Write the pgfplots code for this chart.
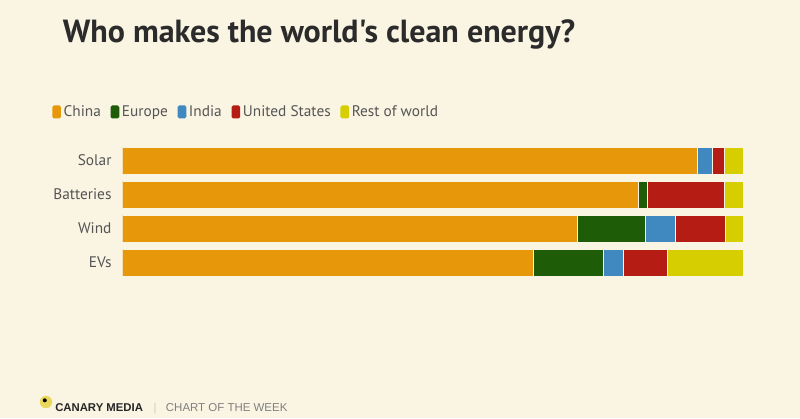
\documentclass[border=0pt]{standalone}
\usepackage{pgfplots}
\pgfplotsset{compat=1.18}
\usepackage{fontspec}
\setmainfont{PT Sans}
\newfontfamily\titlefont[Ligatures=NoCommon]{PT Sans}
\newfontfamily\footfont{Liberation Sans}
\definecolor{bg}{HTML}{FAF4E3}
\definecolor{cChina}{HTML}{E6970A}
\definecolor{cEurope}{HTML}{1E5C07}
\definecolor{cIndia}{HTML}{3F88C0}
\definecolor{cUS}{HTML}{B51C14}
\definecolor{cRoW}{HTML}{D6CE00}
\definecolor{txt}{HTML}{555555}
\definecolor{logo}{HTML}{E9D85A}
\begin{document}
\begin{tikzpicture}
\fill[bg] (0pt,0pt) rectangle (600pt,-313.5pt);
\begin{axis}[
  scale only axis,
  at={(91.8pt,-209.625pt)}, anchor=south west,
  width=466.05pt, height=102pt,
  xbar stacked,
  bar width=20.25pt,
  xmin=0, xmax=100,
  ymin=-0.5, ymax=3.5,
  y dir=reverse,
  axis line style={draw=none},
  xtick=\empty,
  ytick={0,1,2,3},
  yticklabels={Solar,Batteries,Wind,EVs},
  major tick length=0pt,
  ytick style={draw=none},
  yticklabel style={font=\fontsize{11.5}{13}\selectfont, text=txt, inner sep=0pt, xshift=-8pt},
  every axis plot/.append style={draw=bg, line width=0.75pt},
  legend columns=-1,
  legend cell align=left,
  legend style={at={(axis description cs:-0.1197,1.232)}, anchor=west, draw=none, fill=none,
    font=\fontsize{11.5}{13}\selectfont, text=txt,
    /tikz/every even column/.append style={column sep=5.3pt}},
  legend image code/.code={\fill[#1,draw=none,rounded corners=1.2pt] (0pt,-4.9pt) rectangle (6.5pt,4.9pt);},
]
\addplot[fill=cChina] coordinates {(92.6,0) (83.1,1) (73.2,2) (66.1,3)};
\addplot[fill=cEurope] coordinates {(0,0) (1.4,1) (11.0,2) (11.4,3)};
\addplot[fill=cIndia] coordinates {(2.4,0) (0,1) (4.8,2) (3.2,3)};
\addplot[fill=cUS] coordinates {(1.9,0) (12.4,1) (8.1,2) (7.1,3)};
\addplot[fill=cRoW] coordinates {(3.1,0) (3.1,1) (2.9,2) (12.2,3)};
\legend{China,Europe,India,United States,Rest of world}
\end{axis}
\begin{scope}[x=0.75pt,y=-0.75pt]
\node[anchor=base west, inner sep=0pt, text=black!83] at (62.5,42.7)
  {\titlefont\fontsize{24}{28}\selectfont\bfseries Who makes the world\char"27 s clean energy?};
\fill[logo] (46,402) circle (6.2);
\fill[black] (44.8,400.3) circle (2);
\node[anchor=base west, inner sep=0pt, text=black!85] at (55,411)
  {\footfont\fontsize{8.5}{9}\selectfont\bfseries CANARY MEDIA};
\node[anchor=base, inner sep=0pt, text=black!20] at (155,411)
  {\footfont\fontsize{8.5}{9}\selectfont |};
\node[anchor=base west, inner sep=0pt, text=black!50] at (165.7,411)
  {\footfont\fontsize{8.6}{9}\selectfont CHART OF THE WEEK};
\end{scope}
\pgfresetboundingbox
\useasboundingbox (0pt,0pt) rectangle (600pt,-313.5pt);
\end{tikzpicture}
\end{document}
